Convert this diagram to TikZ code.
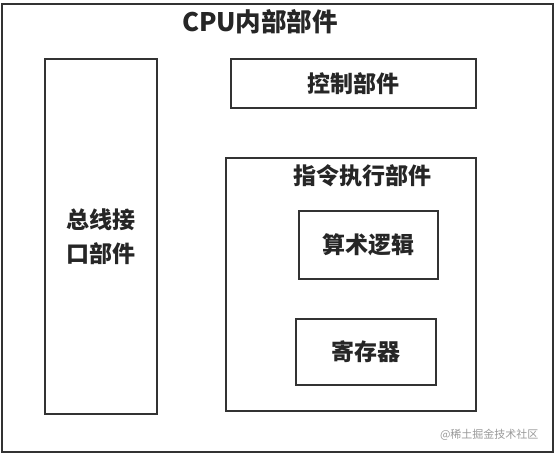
\documentclass[tikz,border=0pt]{standalone}
\usepackage{fontspec}
\newfontfamily\cjk{Noto Sans CJK SC}
\begin{document}
\begin{tikzpicture}[x=1pt,y=-1pt,
  box/.style={draw=black!80,line width=2.9pt,inner sep=0pt},
  lbl/.style={font=\cjk\bfseries\fontsize{23}{34}\selectfont,text=black!85}]
  \useasboundingbox (0,0) rectangle (556,455);
  \node[box,minimum width=551pt,minimum height=448pt] (cpu) at (277.5,228) {};
  \node[lbl,font=\cjk\bfseries\fontsize{25.5}{30}\selectfont] (title) at (260,22) {CPU内部部件};
  \node[box,minimum width=112pt,minimum height=355pt,align=center] (bus) at (101,236.5)
    {};
  \node[lbl,align=center] (buslbl) at (bus) {总线接\\口部件};
  \node[box,minimum width=245pt,minimum height=49pt] (ctrl) at (353.5,83.5) {};
  \node[lbl] at (ctrl) {控制部件};
  \node[box,minimum width=250pt,minimum height=253pt] (exec) at (351,284.5) {};
  \node[lbl] (exectitle) at (362,176) {指令执行部件};
  \node[box,minimum width=139pt,minimum height=68pt] (alu) at (368.5,245) {};
  \node[lbl] at (alu) {算术逻辑};
  \node[box,minimum width=140pt,minimum height=66pt] (reg) at (366,352) {};
  \node[lbl] at (reg) {寄存器};
  \node[font=\cjk\fontsize{11}{13}\selectfont,text=black!40,anchor=east] (mark) at (542,435)
    {@稀土掘金技术社区};
\end{tikzpicture}
\end{document}
